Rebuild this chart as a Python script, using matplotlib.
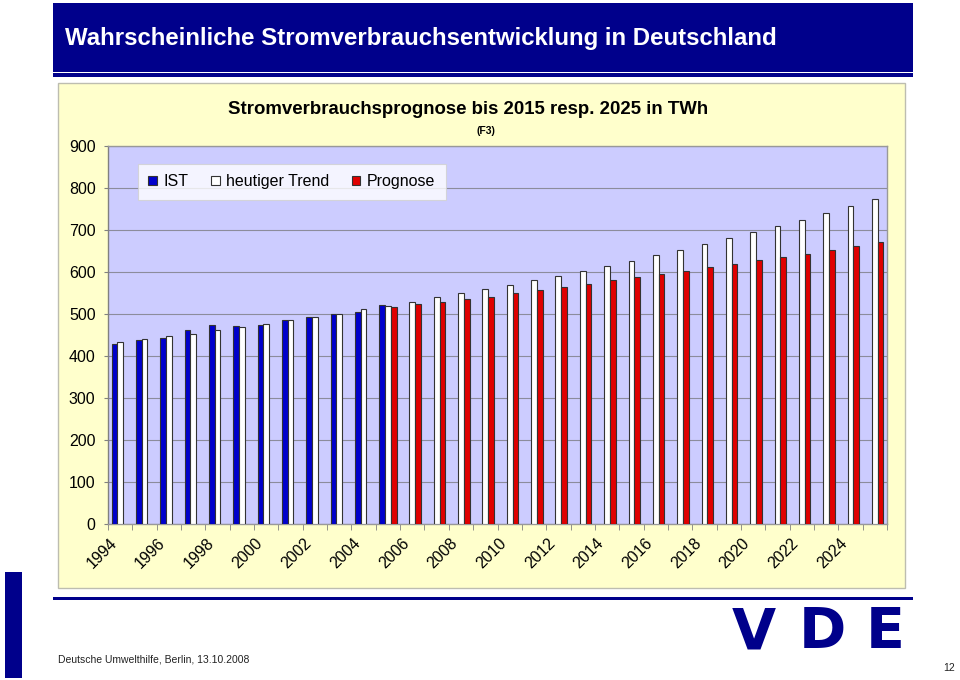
import numpy as np
import matplotlib
matplotlib.use("Agg")
import matplotlib.pyplot as plt
import matplotlib.transforms as mtransforms
from matplotlib.patches import Rectangle, Patch

plt.rcParams['font.family'] = ['Liberation Sans', 'DejaVu Sans']

# data (TWh)
years = list(range(1994, 2026))
ist_years = list(range(1994, 2006))
ist = [428, 437, 443, 461, 473, 471, 473, 485, 493, 499, 504, 521]
trend = [433, 439, 447, 453, 461, 469, 477, 485, 493, 500, 511, 519,
         529, 539, 549, 559, 569, 580, 591, 602, 614, 626,
         640, 652, 667, 681, 694, 710, 724, 740, 757, 774]
prog_years = list(range(2005, 2026))
prog = [517, 523, 529, 535, 541, 549, 556, 564, 572, 581, 588,
        594, 603, 611, 619, 627, 635, 643, 653, 661, 670]
yticks = [0, 100, 200, 300, 400, 500, 600, 700, 800, 900]
legend_labels = ['IST', 'heutiger Trend', 'Prognose']

navy = '#00008B'
W, H = 960, 680

fig = plt.figure(figsize=(9.6, 6.8), dpi=100)


def box(x0, y0, x1, y1, **kw):
    # rectangle in pixel coords (origin top left), drawn behind the axes
    r = Rectangle((x0 / W, 1 - y1 / H), (x1 - x0) / W, (y1 - y0) / H,
                  transform=fig.transFigure, zorder=-1, **kw)
    fig.add_artist(r)


# header
box(53, 3, 913, 71.5, facecolor=navy, edgecolor='none')
box(53, 73.3, 913, 76.7, facecolor=navy, edgecolor='none')
fig.text(65 / W, 1 - 38 / H, 'Wahrscheinliche Stromverbrauchsentwicklung in Deutschland',
         color='white', fontsize=17.3, fontweight='bold', va='center', ha='left')

# chart frame
box(58, 83, 905, 588, facecolor='#FFFFCC', edgecolor='#BDBDB0', linewidth=1)

# footer
box(53, 596.7, 913, 599.5, facecolor=navy, edgecolor='none')
box(5, 572, 21.5, 678, facecolor=navy, edgecolor='none')
fig.text(58 / W, 1 - 660 / H, 'Deutsche Umwelthilfe, Berlin, 13.10.2008',
         fontsize=7.5, va='center', ha='left', color='#222222')
fig.text(955 / W, 1 - 668 / H, '12', fontsize=7.5, va='center', ha='right', color='#222222')
for ch, cx in zip('VDE', [754, 822, 885]):
    fig.text(cx / W, 1 - 634 / H, ch, fontsize=41, fontweight='bold', color=navy,
             family='DejaVu Sans', ha='center', va='center')

# chart titles
fig.text(468 / W, 1 - 110 / H, 'Stromverbrauchsprognose bis 2015 resp. 2025 in TWh',
         fontsize=13.4, fontweight='bold', ha='center', va='center')
fig.text(486 / W, 1 - 131 / H, '(F3)', fontsize=7.5, fontweight='bold', ha='center', va='center')

ax = fig.add_axes([108 / W, 1 - 524 / H, (887 - 108) / W, (524 - 145.7) / H])
ax.set_facecolor('#CCCCFF')

bw = 0.235
x_all = np.array([years.index(y) for y in years])
x_ist = np.array([years.index(y) for y in ist_years])
x_prog = np.array([years.index(y) for y in prog_years])
ax.bar(x_ist - bw, ist, bw, color='#0000CC', edgecolor='#333333', linewidth=0.8, zorder=3)
ax.bar(x_all, trend, bw, color='white', edgecolor='#333333', linewidth=0.8, zorder=3)
ax.bar(x_prog + bw, prog, bw, color='#E00000', edgecolor='#333333', linewidth=0.8, zorder=3)

ax.set_xlim(-0.5, len(years) - 0.5)
ax.set_ylim(0, 900)
ax.set_yticks(yticks)
ax.set_yticklabels([str(v) for v in yticks], fontsize=11.5)
ax.yaxis.grid(True, color='#8C8C9C', linewidth=0.8, zorder=0)
ax.set_axisbelow(True)
ax.tick_params(axis='y', length=3, color='#808080', pad=6)

ax.set_xticks(x_all[::2])
ax.set_xticklabels([str(y) for y in years[::2]], rotation=45, ha='right',
                   rotation_mode='anchor', fontsize=11.5)
ax.tick_params(axis='x', which='major', length=0, pad=9)
shift = mtransforms.ScaledTranslation(-11 / 100, 1 / 100, fig.dpi_scale_trans)
for lab in ax.get_xticklabels():
    lab.set_transform(lab.get_transform() + shift)
ax.set_xticks(np.arange(-0.5, len(years), 1), minor=True)
ax.tick_params(axis='x', which='minor', length=4, color='#808080')

for s in ax.spines.values():
    s.set_color('#999999')
    s.set_linewidth(1)
ax.spines['left'].set_color('#808080')

handles = [Patch(facecolor='#0000CC', edgecolor='#333333', linewidth=0.8),
           Patch(facecolor='white', edgecolor='#333333', linewidth=0.8),
           Patch(facecolor='#E00000', edgecolor='#333333', linewidth=0.8)]
leg = ax.legend(handles, legend_labels, ncol=3, loc='upper left',
                bbox_to_anchor=(0.0385, 0.952), borderaxespad=0, fontsize=11.5,
                frameon=True, fancybox=False, handlelength=0.55, handleheight=0.55,
                handletextpad=0.4, columnspacing=1.4, borderpad=0.65)
leg.get_frame().set_edgecolor('#D0D0D0')
leg.get_frame().set_linewidth(0.8)

fig.savefig('out.png', dpi=100)
